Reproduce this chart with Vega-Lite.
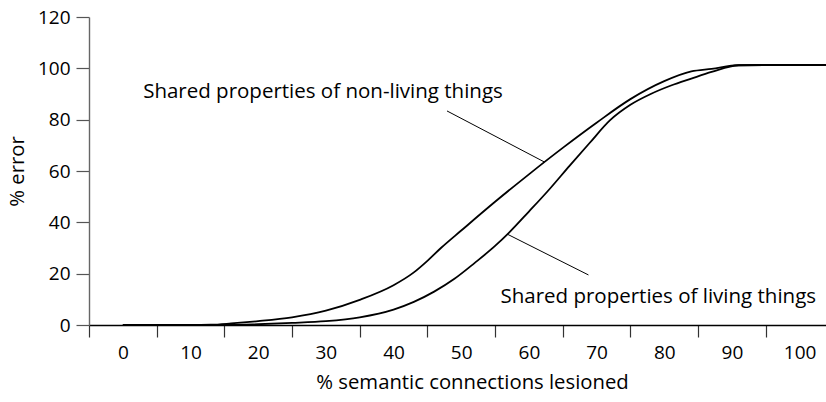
{
  "$schema": "https://vega.github.io/schema/vega-lite/v6.json",
  "width": 737,
  "height": 308,
  "autosize": {"type": "none"},
  "padding": {"left": 89, "top": 17, "right": 0, "bottom": 77},
  "background": "white",
  "config": {
    "view": {"stroke": null},
    "font": "Open Sans",
    "axis": {"grid": false, "labelFont": "Open Sans", "titleFont": "Open Sans", "labelColor": "black", "titleColor": "black", "labelFontWeight": "normal", "titleFontWeight": "normal"}
  },
  "datasets": {
    "curves": [
      {"series": "non-living", "x": 0, "y": 0},
      {"series": "non-living", "x": 5, "y": 0},
      {"series": "non-living", "x": 10, "y": 0},
      {"series": "non-living", "x": 13, "y": 0.1},
      {"series": "non-living", "x": 16, "y": 0.6},
      {"series": "non-living", "x": 20, "y": 1.5},
      {"series": "non-living", "x": 25, "y": 3},
      {"series": "non-living", "x": 30, "y": 5.6},
      {"series": "non-living", "x": 35, "y": 9.8},
      {"series": "non-living", "x": 40, "y": 15.5},
      {"series": "non-living", "x": 43, "y": 20.5},
      {"series": "non-living", "x": 45, "y": 25},
      {"series": "non-living", "x": 47, "y": 30},
      {"series": "non-living", "x": 50, "y": 36.8},
      {"series": "non-living", "x": 55, "y": 48},
      {"series": "non-living", "x": 60, "y": 58.7},
      {"series": "non-living", "x": 65, "y": 69},
      {"series": "non-living", "x": 70, "y": 78.8},
      {"series": "non-living", "x": 75, "y": 88},
      {"series": "non-living", "x": 80, "y": 95},
      {"series": "non-living", "x": 84, "y": 98.8},
      {"series": "non-living", "x": 87, "y": 99.8},
      {"series": "non-living", "x": 91, "y": 101.2},
      {"series": "non-living", "x": 95, "y": 101.3},
      {"series": "non-living", "x": 100, "y": 101.3},
      {"series": "non-living", "x": 103.9, "y": 101.3},
      {"series": "living", "x": 0, "y": 0},
      {"series": "living", "x": 5, "y": 0},
      {"series": "living", "x": 10, "y": 0},
      {"series": "living", "x": 15, "y": 0},
      {"series": "living", "x": 20, "y": 0.3},
      {"series": "living", "x": 25, "y": 0.8},
      {"series": "living", "x": 30, "y": 1.5},
      {"series": "living", "x": 35, "y": 3},
      {"series": "living", "x": 40, "y": 6},
      {"series": "living", "x": 43, "y": 9},
      {"series": "living", "x": 46, "y": 13},
      {"series": "living", "x": 49, "y": 18},
      {"series": "living", "x": 52, "y": 24.2},
      {"series": "living", "x": 55, "y": 30.8},
      {"series": "living", "x": 57, "y": 35.8},
      {"series": "living", "x": 60, "y": 44.2},
      {"series": "living", "x": 63, "y": 52.8},
      {"series": "living", "x": 66, "y": 62},
      {"series": "living", "x": 69, "y": 71},
      {"series": "living", "x": 72, "y": 79.8},
      {"series": "living", "x": 75, "y": 85.8},
      {"series": "living", "x": 78, "y": 90},
      {"series": "living", "x": 81, "y": 93.3},
      {"series": "living", "x": 84, "y": 96},
      {"series": "living", "x": 87, "y": 98.6},
      {"series": "living", "x": 91, "y": 101.2},
      {"series": "living", "x": 95, "y": 101.3},
      {"series": "living", "x": 100, "y": 101.3},
      {"series": "living", "x": 103.9, "y": 101.3}
    ],
    "labels": [
      {"text": "Shared properties of non-living things", "x": 3.0, "y": 88.4},
      {"text": "Shared properties of living things", "x": 55.8, "y": 8.6}
    ],
    "leaders": [
      {"x": 47.9, "y": 83.4, "x2": 62.3, "y2": 63.5},
      {"x": 56.8, "y": 35.4, "x2": 68.8, "y2": 19.5}
    ]
  },
  "layer": [
    {
      "data": {"name": "curves"},
      "mark": {"type": "line", "interpolate": "monotone", "color": "black", "strokeWidth": 1.8, "clip": true},
      "encoding": {
        "x": {
          "field": "x", "type": "quantitative",
          "scale": {"domain": [-5, 103.9], "nice": false, "zero": false},
          "axis": {
            "title": "% semantic connections lesioned",
            "titleFontSize": 20.3, "titlePadding": 10, "titleX": 383,
            "values": [-5, 5, 15, 25, 35, 45, 55, 65, 75, 85, 95],
            "labelExpr": "format(datum.value + 5, 'd')",
            "labelOffset": 33.84,
            "labelFlush": false, "labelOverlap": false, "labelBound": false,
            "labelFontSize": 19, "labelPadding": 6,
            "tickSize": 12, "tickColor": "#333", "tickWidth": 1.2,
            "domainColor": "black", "domainWidth": 1.6
          }
        },
        "y": {
          "field": "y", "type": "quantitative",
          "scale": {"domain": [0, 120], "nice": false},
          "axis": {
            "title": "% error", "titleFontSize": 20.3, "titlePadding": 10,
            "values": [0, 20, 40, 60, 80, 100, 120],
            "labelFontSize": 19, "labelPadding": 6,
            "tickSize": 13, "tickColor": "#555", "tickWidth": 1.2,
            "domainColor": "#666", "domainWidth": 1.4
          }
        },
        "detail": {"field": "series"}
      }
    },
    {
      "data": {"name": "leaders"},
      "mark": {"type": "rule", "color": "black", "strokeWidth": 1},
      "encoding": {
        "x": {"field": "x", "type": "quantitative"},
        "y": {"field": "y", "type": "quantitative"},
        "x2": {"field": "x2"},
        "y2": {"field": "y2"}
      }
    },
    {
      "data": {"name": "labels"},
      "mark": {"type": "text", "align": "left", "baseline": "alphabetic", "fontSize": 20.5, "font": "Open Sans", "color": "black"},
      "encoding": {
        "x": {"field": "x", "type": "quantitative"},
        "y": {"field": "y", "type": "quantitative"},
        "text": {"field": "text"}
      }
    }
  ]
}
